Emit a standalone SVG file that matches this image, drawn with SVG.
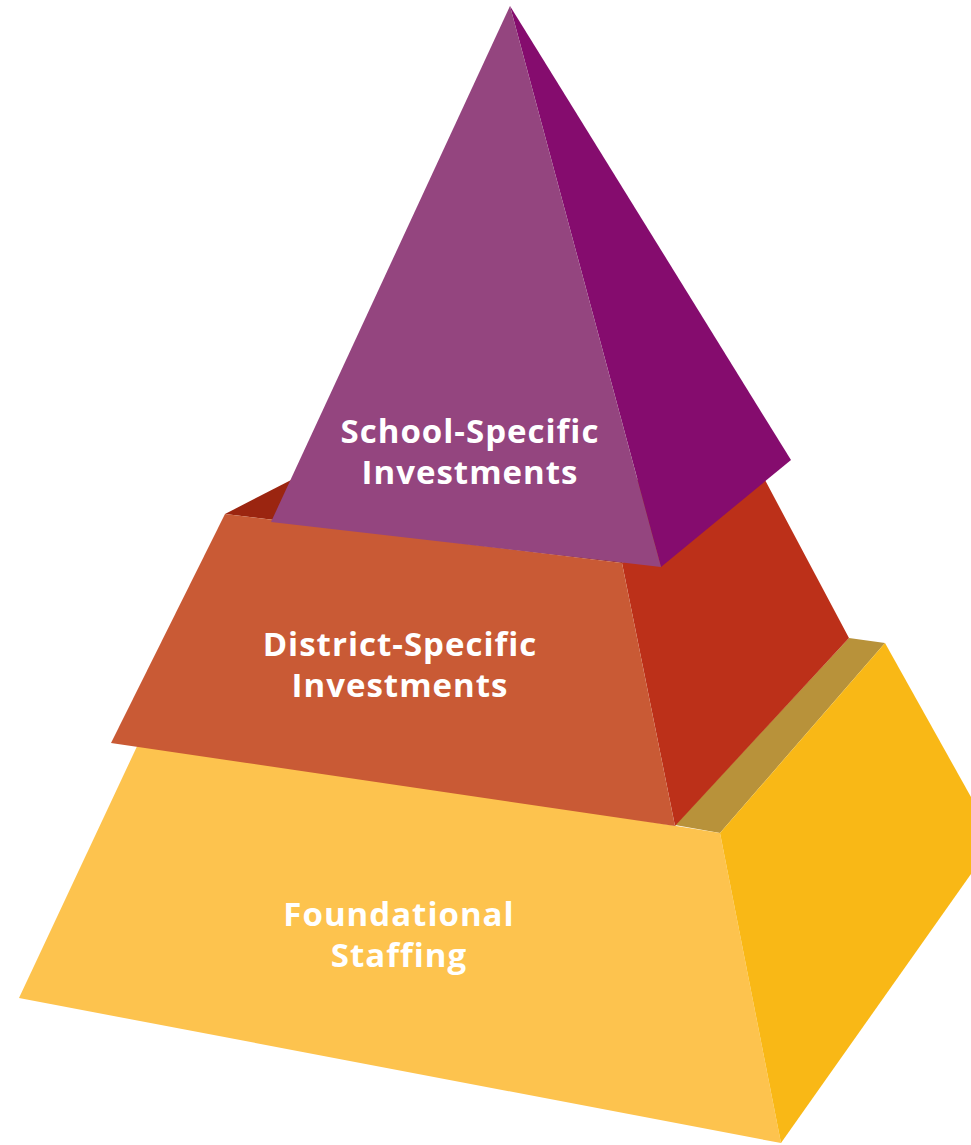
<svg xmlns="http://www.w3.org/2000/svg" width="971" height="1145" viewBox="0 0 971 1145">
<style>
.lbl{font-family:"Open Sans","Liberation Sans",sans-serif;font-weight:bold;fill:#ffffff;text-anchor:middle;font-size:33px;letter-spacing:1px;}
</style>
<rect width="971" height="1145" fill="#ffffff"/>
<g id="tier-foundational">
<polygon points="675,825 849,638 885,643 720,833" fill="#B8923A"/>
<polygon points="140,740 720,833 781,1143 19,998" fill="#FDC34E"/>
<polygon points="720,833 885,643 995,840 781,1143" fill="#F9B816"/>
<text class="lbl" x="399" y="926">Foundational</text>
<text class="lbl" x="399" y="967">Staffing</text>
</g>
<g id="tier-district">
<polygon points="225,514 295,478 765,480 622,563" fill="#9B2510"/>
<polygon points="622,563 765,480 849,638 675,826" fill="#BC3019"/>
<polygon points="225,514 622,563 675,826 111,743" fill="#C95A35"/>
<text class="lbl" x="400" y="656">District-Specific</text>
<text class="lbl" x="400" y="697">Investments</text>
</g>
<g id="tier-school">
<polygon points="510,6 791,460 661,567" fill="#850C6E"/>
<polygon points="510,6 661,567 271,522" fill="#94457F"/>
<text class="lbl" x="470" y="443">School-Specific</text>
<text class="lbl" x="470" y="484">Investments</text>
</g>
<g id="connectors"></g>
</svg>
